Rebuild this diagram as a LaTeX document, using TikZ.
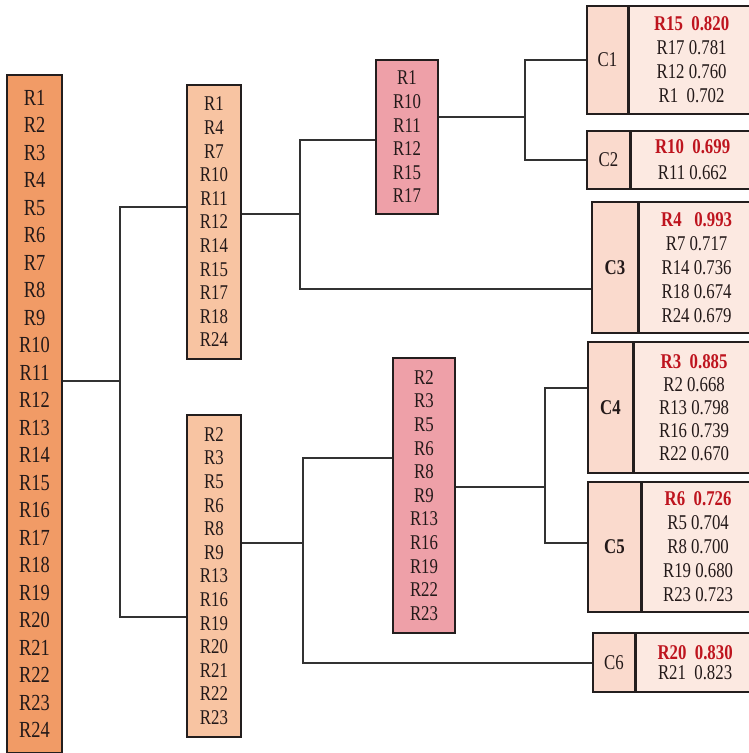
\documentclass[tikz,border=0pt]{standalone}
\usepackage{fontspec}
\setmainfont{Liberation Serif}[FakeStretch=0.8]
\usetikzlibrary{positioning}
\definecolor{allfill}{RGB}{241,155,102}
\definecolor{grpfill}{RGB}{248,196,162}
\definecolor{subfill}{RGB}{238,160,168}
\definecolor{labfill}{RGB}{250,218,205}
\definecolor{memfill}{RGB}{252,233,225}
\definecolor{boxline}{RGB}{35,30,30}
\definecolor{linkgray}{RGB}{50,50,50}
\definecolor{txt}{RGB}{35,25,25}
\definecolor{bestred}{RGB}{190,20,30}
\newcommand{\best}[1]{\textcolor{bestred}{\textbf{#1}}}

\begin{document}
\begin{tikzpicture}[
  x=1pt, y=-1pt,
  box/.style={rectangle, draw=boxline, line width=1.6pt, inner sep=0pt,
              align=center, text=txt},
  all/.style={box, fill=allfill, minimum width=55pt, minimum height=678pt,
              font=\fontsize{23}{27.5}\selectfont},
  grp/.style={box, fill=grpfill, minimum width=54pt,
              font=\fontsize{21}{23.6}\selectfont},
  sub/.style={box, fill=subfill, minimum width=62pt,
              font=\fontsize{21}{23.6}\selectfont},
  clab/.style={box, fill=labfill, font=\fontsize{21}{24}\selectfont},
  cmem/.style={box, fill=memfill, font=\fontsize{21}{24}\selectfont,
               right=0pt of #1},
  link/.style={draw=linkgray, line width=1.3pt},
]
\clip (0,0) rectangle (749,753);
% all regions
\node[all] (all) at (34.5,414)
  {R1\\R2\\R3\\R4\\R5\\R6\\R7\\R8\\R9\\R10\\R11\\R12\\R13\\R14\\R15\\R16\\R17\\R18\\R19\\R20\\R21\\R22\\R23\\R24};
% first split
\node[grp, minimum height=274pt] (grpA) at (214,222)
  {R1\\R4\\R7\\R10\\R11\\R12\\R14\\R15\\R17\\R18\\R24};
\node[grp, minimum height=322pt] (grpB) at (214,576)
  {R2\\R3\\R5\\R6\\R8\\R9\\R13\\R16\\R19\\R20\\R21\\R22\\R23};
% second split
\node[sub, minimum height=154pt] (subA) at (407,137)
  {R1\\R10\\R11\\R12\\R15\\R17};
\node[sub, minimum height=275pt] (subB) at (424,495.5)
  {R2\\R3\\R5\\R6\\R8\\R9\\R13\\R16\\R19\\R22\\R23};
% clusters (label box + member box)
\node[clab, minimum width=41pt, minimum height=108pt] (c1) at (607.5,60) {C1};
\node[cmem=c1, minimum width=124pt, minimum height=108pt] (m1)
  {\best{R15~~0.820}\\R17 0.781\\R12 0.760\\R1~~0.702};
\node[clab, minimum width=43pt, minimum height=58pt] (c2) at (608.5,160) {C2};
\node[cmem=c2, minimum width=122pt, minimum height=58pt,
      font=\fontsize{21}{26}\selectfont] (m2)
  {\best{R10~~0.699}\\R11 0.662};
\node[clab, minimum width=46pt, minimum height=131pt] (c3) at (615,267.5) {\textbf{C3}};
\node[cmem=c3, minimum width=114pt, minimum height=131pt] (m3)
  {\best{R4~~~0.993}\\R7 0.717\\R14 0.736\\R18 0.674\\R24 0.679};
\node[clab, minimum width=45pt, minimum height=131pt] (c4) at (610.5,407.5) {\textbf{C4}};
\node[cmem=c4, minimum width=119pt, minimum height=131pt,
      font=\fontsize{21}{23}\selectfont] (m4)
  {\best{R3~~0.885}\\R2 0.668\\R13 0.798\\R16 0.739\\R22 0.670};
\node[clab, minimum width=53pt, minimum height=130pt] (c5) at (614.5,547) {\textbf{C5}};
\node[cmem=c5, minimum width=111pt, minimum height=130pt] (m5)
  {\best{R6~~0.726}\\R5 0.704\\R8 0.700\\R19 0.680\\R23 0.723};
\node[clab, minimum width=42pt, minimum height=59pt] (c6) at (614,662.5) {C6};
\node[cmem=c6, minimum width=117pt, minimum height=59pt,
      font=\fontsize{21}{20}\selectfont] (m6)
  {\best{R20~~0.830}\\R21~~0.823};
% edges
\coordinate (j0) at (120,381);
\draw[link] (all.east |- j0) -- (j0);
\draw[link] (grpA.west |- 0,207) -| (j0) |- (grpB.west |- 0,617);
\coordinate (j1) at (300,214);
\draw[link] (grpA.east |- j1) -- (j1);
\draw[link] (subA.west |- 0,140) -| (j1) |- (c3.west |- 0,289);
\coordinate (j2) at (525,117);
\draw[link] (subA.east |- j2) -- (j2);
\draw[link] (c1.west |- 0,60) -| (j2) |- (c2.west |- 0,160);
\coordinate (j3) at (303,543);
\draw[link] (grpB.east |- j3) -- (j3);
\draw[link] (subB.west |- 0,458) -| (j3) |- (c6.west |- 0,663);
\coordinate (j4) at (545,487);
\draw[link] (subB.east |- j4) -- (j4);
\draw[link] (c4.west |- 0,388) -| (j4) |- (c5.west |- 0,543);
\end{tikzpicture}
\end{document}
